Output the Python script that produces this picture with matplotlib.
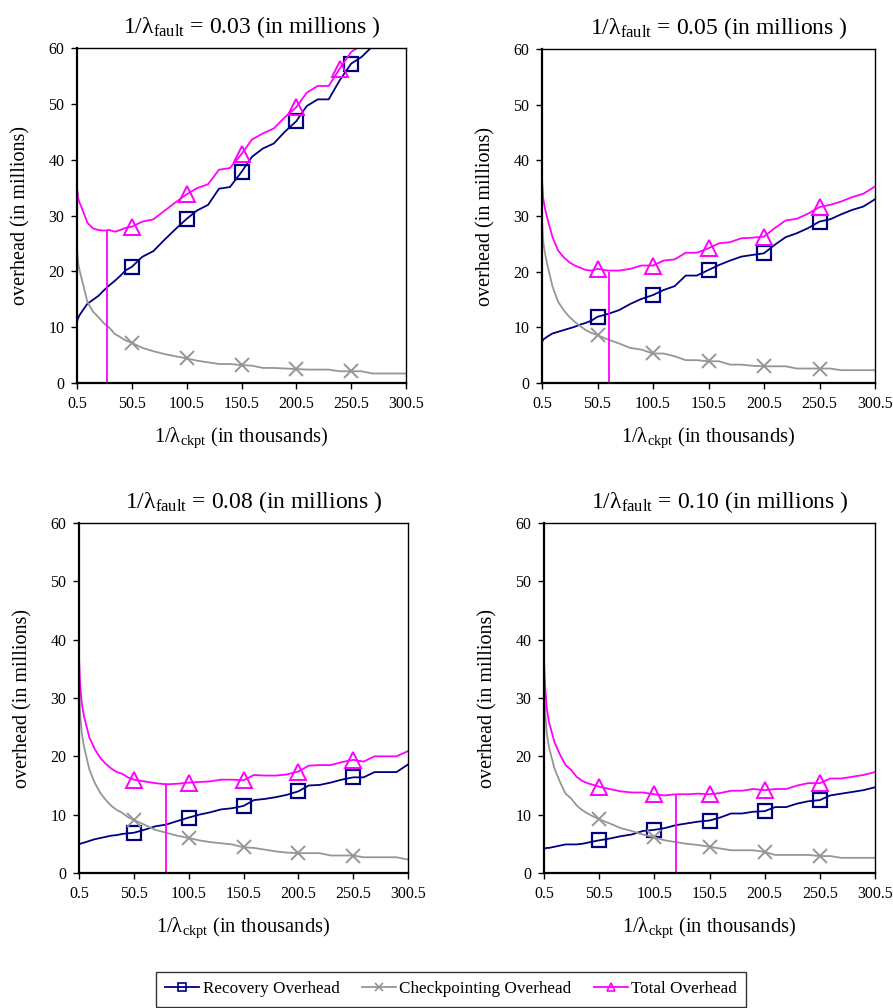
import numpy as np
import matplotlib as mpl
mpl.use('Agg')
import matplotlib.pyplot as plt
from matplotlib.lines import Line2D

mpl.rcParams['font.family'] = ['Liberation Serif', 'DejaVu Serif']
mpl.rcParams['mathtext.fontset'] = 'custom'
mpl.rcParams['mathtext.rm'] = 'Liberation Serif'
mpl.rcParams['mathtext.it'] = 'Liberation Serif:italic'

# 1/lambda_ckpt (thousands), shared sample grid
ckpt_x = [0.5, 1.5, 3, 5, 10, 15, 20, 25, 30, 35, 40, 45, 50.5, 60, 70, 80, 90,
          100.5, 110, 120, 130, 140, 150.5, 160, 170, 180, 190, 200.5, 210,
          220, 230, 240, 250.5, 260, 270, 280, 290, 300.5]

fault_labels = ['0.03', '0.05', '0.08', '0.10']

# recovery overhead (millions), one list per panel
recovery_003 = [11.0, 11.6, 12.2, 12.8, 14.2, 14.9, 15.6, 16.6, 17.5, 18.3, 19.2, 20.2,
                20.8, 22.6, 23.6, 25.6, 27.5, 29.4, 30.9, 31.9, 34.8, 35.1, 37.8,
                40.5, 42.0, 42.9, 45.0, 46.9, 49.6, 50.8, 50.8, 54.2, 57.2, 58.4,
                60.3, np.nan, np.nan, np.nan]
recovery_005 = [7.3, 7.8, 8.0, 8.3, 8.9, 9.2, 9.5, 9.8, 10.1, 10.5, 10.8, 11.2, 11.9,
                12.4, 13.1, 14.2, 15.1, 15.8, 16.7, 17.4, 19.3, 19.3, 20.3, 21.2,
                22.0, 22.7, 23.0, 23.3, 24.8, 26.2, 26.9, 27.8, 29.0, 29.4, 30.3,
                31.1, 31.7, 33.0]
recovery_008 = [4.9, 5.0, 5.1, 5.2, 5.5, 5.8, 6.0, 6.2, 6.4, 6.5, 6.7, 6.8, 6.9, 7.4,
                8.0, 8.3, 8.9, 9.5, 10.0, 10.4, 10.9, 11.1, 11.5, 12.5, 12.7, 13.0,
                13.4, 14.0, 15.0, 15.1, 15.5, 16.0, 16.4, 16.4, 17.3, 17.3, 17.3, 18.6]
recovery_010 = [4.2, 4.2, 4.3, 4.3, 4.5, 4.7, 4.9, 4.9, 4.9, 5.0, 5.2, 5.4, 5.6, 5.9,
                6.3, 6.6, 7.2, 7.4, 7.7, 8.2, 8.5, 8.8, 9.0, 9.5, 10.2, 10.2, 10.5,
                10.6, 11.3, 11.3, 11.9, 12.3, 12.5, 13.3, 13.6, 13.9, 14.2, 14.7]

# checkpointing overhead (millions)
checkpoint_003 = [24.0, 21.5, 20.0, 18.5, 14.5, 12.8, 11.8, 10.7, 9.9, 8.8, 8.2, 7.6,
                  7.2, 6.3, 5.7, 5.2, 4.8, 4.4, 4.0, 3.7, 3.4, 3.4, 3.2, 3.1, 2.7,
                  2.7, 2.6, 2.5, 2.4, 2.4, 2.4, 2.1, 2.1, 2.1, 1.7, 1.7, 1.7, 1.7]
checkpoint_005 = [29.3, 25.5, 23.5, 21.5, 17.3, 14.6, 13.1, 11.9, 11.0, 10.2, 9.5, 9.0,
                  8.6, 7.8, 7.1, 6.3, 6.0, 5.3, 5.3, 4.8, 4.1, 4.1, 3.9, 3.9, 3.3,
                  3.3, 3.1, 3.0, 3.0, 3.0, 2.6, 2.6, 2.6, 2.6, 2.3, 2.3, 2.3, 2.3]
checkpoint_008 = [32.0, 27.4, 24.0, 21.7, 17.7, 15.4, 13.7, 12.5, 11.5, 10.8, 10.3, 9.6,
                  9.1, 8.3, 7.4, 6.9, 6.4, 6.0, 5.6, 5.3, 5.1, 4.9, 4.4, 4.3, 4.0,
                  3.7, 3.5, 3.4, 3.4, 3.4, 3.0, 3.0, 3.0, 2.7, 2.7, 2.7, 2.7, 2.3]
checkpoint_010 = [32.0, 27.9, 23.9, 21.6, 17.9, 15.6, 13.6, 12.8, 11.6, 10.8, 10.2, 9.7,
                  9.2, 8.5, 7.7, 7.2, 6.6, 6.1, 5.6, 5.3, 5.0, 4.8, 4.5, 4.2, 3.9,
                  3.9, 3.9, 3.6, 3.1, 3.1, 3.1, 3.1, 2.9, 2.9, 2.6, 2.6, 2.6, 2.6]

# optimum checkpoint interval (vertical marker) and the total there
opt_x = [28, 60.5, 80, 120.5]
opt_y = [27.2, 19.7, 15.2, 13.4]

# x positions that carry markers
marker_x = [50.5, 100.5, 150.5, 200.5, 250.5]
total_marker_x = [[50.5, 100.5, 150.5, 200.5, 240],
                  marker_x, marker_x, marker_x]

recovery = [recovery_003, recovery_005, recovery_008, recovery_010]
checkpoint = [checkpoint_003, checkpoint_005, checkpoint_008, checkpoint_010]

NAVY = '#000080'
GREY = '#969696'
MAGENTA = '#FF00FF'

W, H = 893, 1008
fig = plt.figure(figsize=(W / 100, H / 100), dpi=100)

# axes boxes in pixels: left, top, right, bottom
boxes = [(77, 48, 406, 383), (542, 49, 875, 383),
         (79, 523, 408, 873), (544, 523, 875, 873)]


def idx(xs):
    return [ckpt_x.index(v) for v in xs]


for i in range(4):
    l, t, r, b = boxes[i]
    ax = fig.add_axes([l / W, 1 - b / H, (r - l) / W, (b - t) / H])
    x = np.array(ckpt_x)
    rec = np.array(recovery[i])
    chk = np.array(checkpoint[i])
    tot = rec + chk

    ax.plot(x, rec, color=NAVY, lw=1.3, marker='s', markersize=10,
            markerfacecolor='none', markeredgewidth=1.6,
            markevery=idx(marker_x))
    ax.plot(x, chk, color=GREY, lw=1.3, marker='x', markersize=10,
            markeredgewidth=1.4, markevery=idx(marker_x))
    ax.plot(x, tot, color=MAGENTA, lw=1.3, marker='^', markersize=11,
            markerfacecolor='none', markeredgewidth=1.4,
            markevery=idx(total_marker_x[i]))
    ax.plot([opt_x[i], opt_x[i]], [0, opt_y[i]], color=MAGENTA, lw=1.3)

    ax.set_xlim(0.5, 300.5)
    ax.set_ylim(0, 60)
    ax.set_xticks([0.5, 50.5, 100.5, 150.5, 200.5, 250.5, 300.5])
    ax.set_xticklabels(['0.5', '50.5', '100.5', '150.5', '200.5', '250.5', '300.5'])
    ax.set_yticks([0, 10, 20, 30, 40, 50, 60])
    ax.tick_params(direction='out', length=4, width=1, labelsize=11.5,
                   top=False, right=False, pad=5)
    for s in ax.spines.values():
        s.set_linewidth(1.0)
    ax.spines['left'].set_linewidth(1.6)
    ax.spines['bottom'].set_linewidth(1.6)

    ax.set_title(r'1/λ$_{\mathrm{fault}}$ = ' + fault_labels[i] + ' (in millions )',
                 fontsize=17, pad=11, x=0.53)
    ax.set_xlabel(r'1/λ$_{\mathrm{ckpt}}$ (in thousands)', fontsize=14.8, labelpad=10)
    ax.set_ylabel('overhead (in millions)', fontsize=14.5, labelpad=13)

handles = [
    Line2D([], [], color=NAVY, lw=1.3, marker='s', markersize=6,
           markerfacecolor='none', markeredgewidth=1.2),
    Line2D([], [], color=GREY, lw=1.3, marker='x', markersize=6,
           markeredgewidth=1.2),
    Line2D([], [], color=MAGENTA, lw=1.3, marker='^', markersize=6,
           markerfacecolor='none', markeredgewidth=1.2),
]
labels = ['Recovery Overhead', 'Checkpointing Overhead', 'Total Overhead']
leg = fig.legend(handles, labels, loc='center', bbox_to_anchor=(0.505, 0.0185),
                 ncol=3, fontsize=12.3, frameon=True, fancybox=False,
                 edgecolor='black', handlelength=2.0, handletextpad=0.2,
                 columnspacing=1.3, borderpad=0.55)
leg.get_frame().set_linewidth(1.0)

fig.savefig('out.png', dpi=100)
